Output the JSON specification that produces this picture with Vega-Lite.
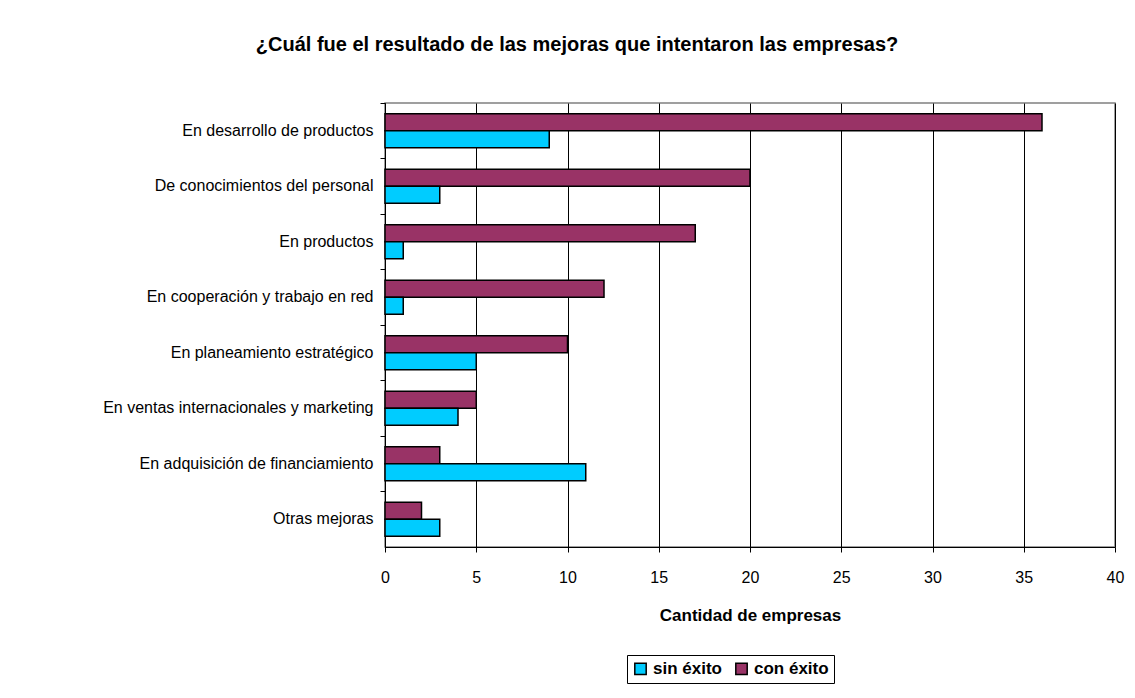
{
  "$schema": "https://vega.github.io/schema/vega-lite/v6.json",
  "width": 730,
  "height": 444,
  "autosize": {"type": "none"},
  "padding": {"left": 385, "top": 103, "right": 20, "bottom": 151},
  "background": "white",
  "title": {
    "text": "¿Cuál fue el resultado de las mejoras que intentaron las empresas?",
    "font": "Liberation Sans",
    "fontSize": 20,
    "fontWeight": "bold",
    "color": "black",
    "anchor": "middle",
    "frame": "group",
    "dx": -173,
    "offset": 48
  },
  "data": {
    "values": [
      {"mejora": "En desarrollo de productos", "serie": "con éxito", "cantidad": 36},
      {"mejora": "En desarrollo de productos", "serie": "sin éxito", "cantidad": 9},
      {"mejora": "De conocimientos del personal", "serie": "con éxito", "cantidad": 20},
      {"mejora": "De conocimientos del personal", "serie": "sin éxito", "cantidad": 3},
      {"mejora": "En productos", "serie": "con éxito", "cantidad": 17},
      {"mejora": "En productos", "serie": "sin éxito", "cantidad": 1},
      {"mejora": "En cooperación y trabajo en red", "serie": "con éxito", "cantidad": 12},
      {"mejora": "En cooperación y trabajo en red", "serie": "sin éxito", "cantidad": 1},
      {"mejora": "En planeamiento estratégico", "serie": "con éxito", "cantidad": 10},
      {"mejora": "En planeamiento estratégico", "serie": "sin éxito", "cantidad": 5},
      {"mejora": "En ventas internacionales y marketing", "serie": "con éxito", "cantidad": 5},
      {"mejora": "En ventas internacionales y marketing", "serie": "sin éxito", "cantidad": 4},
      {"mejora": "En adquisición de financiamiento", "serie": "con éxito", "cantidad": 3},
      {"mejora": "En adquisición de financiamiento", "serie": "sin éxito", "cantidad": 11},
      {"mejora": "Otras mejoras", "serie": "con éxito", "cantidad": 2},
      {"mejora": "Otras mejoras", "serie": "sin éxito", "cantidad": 3}
    ]
  },
  "mark": {"type": "bar", "stroke": "black", "strokeWidth": 1.5},
  "encoding": {
    "y": {
      "field": "mejora",
      "type": "nominal",
      "sort": null,
      "scale": {"paddingInner": 0, "paddingOuter": 0},
      "axis": {
        "title": null,
        "bandPosition": 0,
        "labelFont": "Liberation Sans",
        "labelFontSize": 16,
        "labelColor": "black",
        "labelPadding": 7,
        "labelLimit": 400,
        "tickSize": 5,
        "tickColor": "black",
        "domainColor": "black",
        "grid": false
      }
    },
    "yOffset": {
      "field": "serie",
      "type": "nominal",
      "sort": ["con éxito", "sin éxito"],
      "scale": {"paddingInner": 0, "paddingOuter": 0.63}
    },
    "x": {
      "field": "cantidad",
      "type": "quantitative",
      "scale": {"domain": [0, 40], "nice": false},
      "axis": {
        "title": "Cantidad de empresas",
        "titleFont": "Liberation Sans",
        "titleFontSize": 17,
        "titleFontWeight": "bold",
        "titleColor": "black",
        "titlePadding": 22,
        "values": [0, 5, 10, 15, 20, 25, 30, 35, 40],
        "labelFlush": false,
        "labelFont": "Liberation Sans",
        "labelFontSize": 16,
        "labelColor": "black",
        "labelPadding": 17,
        "tickSize": 5,
        "tickColor": "black",
        "domainColor": "black",
        "grid": true,
        "gridColor": "black",
        "gridWidth": 1
      }
    },
    "color": {
      "field": "serie",
      "type": "nominal",
      "scale": {"domain": ["sin éxito", "con éxito"], "range": ["#00CCFF", "#993366"]},
      "legend": {
        "title": null,
        "orient": "none",
        "direction": "horizontal",
        "legendX": 242,
        "legendY": 552,
        "symbolType": "square",
        "symbolSize": 130,
        "symbolStrokeColor": "black",
        "symbolStrokeWidth": 1.5,
        "labelFont": "Liberation Sans",
        "labelFontSize": 17,
        "labelFontWeight": "bold",
        "labelColor": "black",
        "columnPadding": 10,
        "strokeColor": "black",
        "padding": 5
      }
    }
  },
  "config": {
    "view": {"stroke": "#808080", "strokeWidth": 1.5}
  }
}
